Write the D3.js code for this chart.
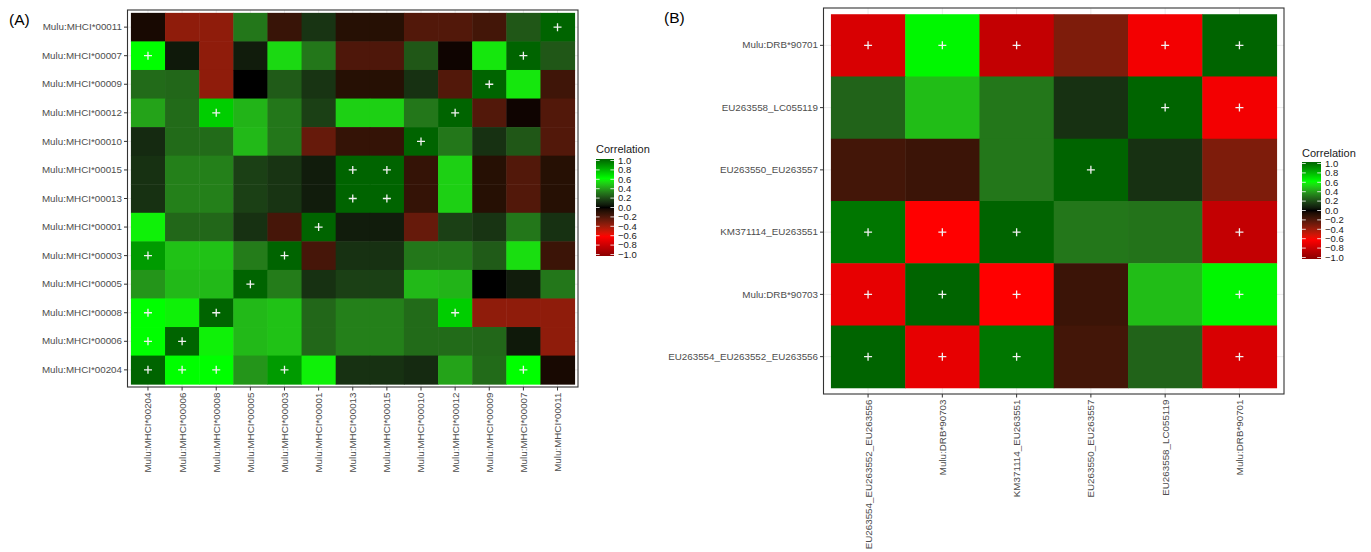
<!DOCTYPE html>
<html><head><meta charset="utf-8">
<script src="https://cdn.jsdelivr.net/npm/d3@7"></script>
<style>body{margin:0;background:#fff}svg{display:block}text{font-family:"Liberation Sans",Arial,Helvetica,sans-serif}</style>
</head><body><svg id="chart" width="1371" height="552"></svg>
<script>
// ---------- DATA ----------
const xCatsA = ["Mulu:MHCI*00204","Mulu:MHCI*00006","Mulu:MHCI*00008","Mulu:MHCI*00005","Mulu:MHCI*00003","Mulu:MHCI*00001","Mulu:MHCI*00013","Mulu:MHCI*00015","Mulu:MHCI*00010","Mulu:MHCI*00012","Mulu:MHCI*00009","Mulu:MHCI*00007","Mulu:MHCI*00011"];
const yCatsA = ["Mulu:MHCI*00011","Mulu:MHCI*00007","Mulu:MHCI*00009","Mulu:MHCI*00012","Mulu:MHCI*00010","Mulu:MHCI*00015","Mulu:MHCI*00013","Mulu:MHCI*00001","Mulu:MHCI*00003","Mulu:MHCI*00005","Mulu:MHCI*00008","Mulu:MHCI*00006","Mulu:MHCI*00204"];
// rows follow yCatsA (top to bottom), columns follow xCatsA
const corrA = [
 [-0.04,-0.35,-0.35, 0.30,-0.13, 0.13,-0.08,-0.08,-0.20,-0.20,-0.16, 0.22, 1.00],
 [ 0.60, 0.05,-0.35, 0.06, 0.52, 0.30,-0.19,-0.19, 0.22,-0.02, 0.55, 1.00, 0.22],
 [ 0.27, 0.26,-0.35, 0.00, 0.23, 0.13,-0.08,-0.08, 0.12,-0.20, 1.00, 0.55,-0.15],
 [ 0.40, 0.27, 0.72, 0.44, 0.30, 0.16, 0.50, 0.50, 0.30, 1.00,-0.20,-0.02,-0.20],
 [ 0.10, 0.27, 0.27, 0.45, 0.30,-0.25,-0.12,-0.12, 1.00, 0.30, 0.12, 0.22,-0.20],
 [ 0.12, 0.32, 0.32, 0.16, 0.13, 0.06, 1.00, 1.00,-0.12, 0.50,-0.08,-0.20,-0.08],
 [ 0.12, 0.32, 0.32, 0.16, 0.13, 0.06, 1.00, 1.00,-0.12, 0.50,-0.08,-0.20,-0.08],
 [ 0.57, 0.26, 0.26, 0.12,-0.17, 1.00, 0.06, 0.06,-0.25, 0.16, 0.13, 0.30, 0.12],
 [ 0.85, 0.47, 0.47, 0.31, 1.00,-0.17, 0.12, 0.12, 0.30, 0.30, 0.23, 0.53,-0.14],
 [ 0.37, 0.45, 0.45, 1.00, 0.31, 0.12, 0.16, 0.16, 0.45, 0.44, 0.00, 0.06, 0.30],
 [ 0.60, 0.57, 1.00, 0.45, 0.47, 0.26, 0.32, 0.32, 0.27, 0.72,-0.35,-0.35,-0.35],
 [ 0.60, 1.00, 0.57, 0.45, 0.47, 0.26, 0.32, 0.32, 0.27, 0.27, 0.26, 0.05,-0.35],
 [ 1.00, 0.60, 0.60, 0.37, 0.85, 0.57, 0.12, 0.12, 0.10, 0.40, 0.27, 0.60,-0.04]
];
const sigA = [
 [0,0,0,0,0,0,0,0,0,0,0,0,1],
 [1,0,0,0,0,0,0,0,0,0,0,1,0],
 [0,0,0,0,0,0,0,0,0,0,1,0,0],
 [0,0,1,0,0,0,0,0,0,1,0,0,0],
 [0,0,0,0,0,0,0,0,1,0,0,0,0],
 [0,0,0,0,0,0,1,1,0,0,0,0,0],
 [0,0,0,0,0,0,1,1,0,0,0,0,0],
 [0,0,0,0,0,1,0,0,0,0,0,0,0],
 [1,0,0,0,1,0,0,0,0,0,0,0,0],
 [0,0,0,1,0,0,0,0,0,0,0,0,0],
 [1,0,1,0,0,0,0,0,0,1,0,0,0],
 [1,1,0,0,0,0,0,0,0,0,0,0,0],
 [1,1,1,0,1,0,0,0,0,0,0,1,0]
];
const xCatsB = ["EU263554_EU263552_EU263556","Mulu:DRB*90703","KM371114_EU263551","EU263550_EU263557","EU263558_LC055119","Mulu:DRB*90701"];
const yCatsB = ["Mulu:DRB*90701","EU263558_LC055119","EU263550_EU263557","KM371114_EU263551","Mulu:DRB*90703","EU263554_EU263552_EU263556"];
const corrB = [
 [-0.73, 0.62,-0.80,-0.31,-0.64, 1.00],
 [ 0.25, 0.46, 0.30, 0.12, 1.00,-0.64],
 [-0.16,-0.14, 0.30, 1.00, 0.12,-0.31],
 [ 0.95,-0.60, 1.00, 0.30, 0.29,-0.80],
 [-0.68, 1.00,-0.60,-0.14, 0.46, 0.62],
 [ 1.00,-0.68, 0.95,-0.16, 0.25,-0.73]
];
const sigB = [
 [1,1,1,0,1,1],
 [0,0,0,0,1,1],
 [0,0,0,1,0,0],
 [1,1,1,0,0,1],
 [1,1,1,0,0,1],
 [1,1,1,0,0,1]
];
const legendTicks = [-1,-0.8,-0.6,-0.4,-0.2,0,0.2,0.4,0.6,0.8,1];
const colorStops = [-1,-0.6,0,0.6,1];
const colorRange = ["#8B0000","#FF0000","#000000","#00FF00","#006400"];

// ---------- DRAWING ----------
const svg = d3.select("#chart");
svg.append("rect").attr("width",1371).attr("height",552).attr("fill","#fff");
const color = d3.scaleLinear().domain(colorStops).range(colorRange).interpolate(d3.interpolateLab).clamp(true);
const fmt = d3.format(".1f");

function heatmap(opt){
  const {xCats,yCats,vals,sig,x0,x1,y0,y1} = opt;
  const g = svg.append("g");
  const x = d3.scaleBand().domain(xCats).range([x0,x1]).paddingInner(0).paddingOuter(0.1);
  const y = d3.scaleBand().domain(yCats).range([y0,y1]).paddingInner(0).paddingOuter(0.1);
  // grid
  g.selectAll(".gx").data(xCats).join("line")
    .attr("x1",d=>x(d)+x.bandwidth()/2).attr("x2",d=>x(d)+x.bandwidth()/2)
    .attr("y1",y0).attr("y2",y1).attr("stroke","#EBEBEB").attr("stroke-width",1);
  g.selectAll(".gy").data(yCats).join("line")
    .attr("y1",d=>y(d)+y.bandwidth()/2).attr("y2",d=>y(d)+y.bandwidth()/2)
    .attr("x1",x0).attr("x2",x1).attr("stroke","#EBEBEB").attr("stroke-width",1);
  const cells = [];
  yCats.forEach((yc,i)=>xCats.forEach((xc,j)=>cells.push({xc,yc,v:vals[i][j],s:sig[i][j]})));
  g.selectAll("rect.cell").data(cells).join("rect").attr("class","cell")
    .attr("x",d=>x(d.xc)).attr("y",d=>y(d.yc))
    .attr("width",x.bandwidth()+0.5).attr("height",y.bandwidth()+0.5)
    .attr("fill",d=>color(d.v));
  const r = 4;
  g.selectAll("path.plus").data(cells.filter(d=>d.s)).join("path").attr("class","plus")
    .attr("d",d=>{const cx=x(d.xc)+x.bandwidth()/2, cy=y(d.yc)+y.bandwidth()/2;
      return `M${cx-r},${cy}H${cx+r}M${cx},${cy-r}V${cy+r}`;})
    .attr("stroke","#F2F2F2").attr("stroke-width",1.3).attr("fill","none");
  // border
  g.append("rect").attr("x",x0).attr("y",y0).attr("width",x1-x0).attr("height",y1-y0)
    .attr("fill","none").attr("stroke","#333333").attr("stroke-width",1.1);
  // axes
  const ax = g.append("g").attr("transform",`translate(0,${y1})`)
    .call(d3.axisBottom(x).tickSize(3.5).tickSizeOuter(0).tickPadding(2));
  ax.select(".domain").remove();
  ax.selectAll(".tick line").attr("stroke","#333333");
  ax.selectAll(".tick text").attr("transform","rotate(-90)").attr("x",-5.5).attr("y",0)
    .attr("dy","0.35em").attr("text-anchor","end")
    .attr("font-size","9.8px").attr("fill","#4D4D4D").style("font-family",'"Liberation Sans",Arial,sans-serif');
  const ay = g.append("g").attr("transform",`translate(${x0},0)`)
    .call(d3.axisLeft(y).tickSize(3.5).tickSizeOuter(0).tickPadding(2));
  ay.select(".domain").remove();
  ay.selectAll(".tick line").attr("stroke","#333333");
  ay.selectAll(".tick text").attr("font-size","9.8px").attr("fill","#4D4D4D")
    .style("font-family",'"Liberation Sans",Arial,sans-serif');
}

function legend(opt,id){
  const {lx,top,bottom,w,ttlY} = opt;
  const ly = d3.scaleLinear().domain([-1,1]).range([bottom-1.5,top+1.5]);
  const grad = svg.append("defs").append("linearGradient").attr("id",id)
    .attr("x1",0).attr("y1",1).attr("x2",0).attr("y2",0);
  d3.range(0,41).map(i=>-1+i*0.05).forEach(v=>{
    grad.append("stop").attr("offset",(v+1)/2).attr("stop-color",color(v));
  });
  const g = svg.append("g");
  g.append("text").attr("x",lx).attr("y",ttlY).attr("font-size","11px").attr("fill","#1A1A1A").text("Correlation");
  g.append("rect").attr("x",lx).attr("y",top).attr("width",w).attr("height",bottom-top).attr("fill",`url(#${id})`);
  const tl = w/5;
  g.selectAll("line.tl").data(legendTicks).join("line")
    .attr("x1",lx).attr("x2",lx+tl).attr("y1",d=>ly(d)).attr("y2",d=>ly(d)).attr("stroke","#fff").attr("stroke-width",0.8);
  g.selectAll("line.tr").data(legendTicks).join("line")
    .attr("x1",lx+w-tl).attr("x2",lx+w).attr("y1",d=>ly(d)).attr("y2",d=>ly(d)).attr("stroke","#fff").attr("stroke-width",0.8);
  g.selectAll("text.lab").data(legendTicks).join("text")
    .attr("x",lx+w+4).attr("y",d=>ly(d)).attr("dy","0.35em")
    .attr("font-size","9.5px").attr("fill","#1A1A1A").text(d=>fmt(d));
}

heatmap({xCats:xCatsA,yCats:yCatsA,vals:corrA,sig:sigA,x0:127.5,x1:578,y0:10,y1:387});
heatmap({xCats:xCatsB,yCats:yCatsB,vals:corrB,sig:sigB,x0:823.5,x1:1284,y0:8,y1:394});
legend({lx:596,top:159,bottom:256,w:18,ttlY:153},"gradA");
legend({lx:1302,top:162,bottom:259,w:19,ttlY:157},"gradB");

svg.append("text").attr("x",9).attr("y",25).attr("font-size","15.5px").attr("fill","#000").text("(A)");
svg.append("text").attr("x",664).attr("y",23).attr("font-size","15.5px").attr("fill","#000").text("(B)");
</script></body></html>
